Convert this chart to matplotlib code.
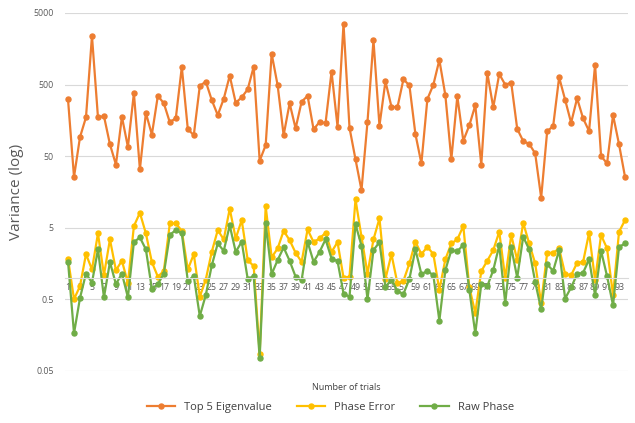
import matplotlib
matplotlib.use("Agg")
import matplotlib.pyplot as plt
from matplotlib.ticker import FixedLocator, NullLocator

plt.rcParams['font.family'] = ['Open Sans', 'DejaVu Sans']

# trial numbers 1..94
trials = list(range(1, 95))

top5_eigen = [
    310, 25.6, 92, 174, 2380, 174, 181, 73, 38, 177,
    67, 380, 32.6, 200, 100, 348, 273, 148, 170, 879,
    119, 98, 476, 551, 303, 187, 316, 664, 278, 331,
    428, 887, 43, 71, 1349, 487, 98, 273, 122, 287,
    348, 118, 150, 145, 755, 129, 3510, 124, 45, 16.7,
    150, 2075, 133, 554, 245, 240, 591, 487, 102, 39.5,
    313, 497, 1101, 356, 45, 342, 82, 134, 256, 37.8,
    731, 240, 701, 497, 530, 120, 81, 74, 54.5, 13.1,
    111, 131, 630, 306, 146, 321, 168, 112, 946, 50,
    39.5, 187, 73, 25.6,
]

phase_error = [
    1.83, 0.50, 0.76, 2.13, 1.30, 4.15, 1.09, 3.42, 1.27, 1.72,
    0.84, 5.25, 8.05, 4.15, 1.65, 1.03, 1.24, 5.72, 5.72, 4.51,
    1.30, 2.13, 0.54, 0.94, 2.29, 4.61, 3.42, 9.16, 3.53, 6.36,
    1.76, 1.45, 0.087, 10.0, 1.92, 2.56, 4.51, 3.34, 2.22, 1.66,
    4.72, 3.13, 3.53, 4.23, 2.29, 3.13, 1.0, 1.03, 12.4, 3.72,
    1.14, 3.42, 6.72, 0.96, 2.13, 0.83, 0.90, 1.58, 3.17, 2.13,
    2.69, 2.13, 0.67, 1.80, 3.00, 3.42, 5.25, 0.74, 0.32, 1.23,
    1.72, 2.42, 4.37, 0.98, 3.93, 1.76, 5.83, 3.00, 1.58, 0.44,
    2.22, 2.22, 2.56, 1.12, 1.08, 1.61, 1.66, 4.23, 0.92, 3.93,
    2.56, 0.57, 4.37, 6.36,
]

raw_phase = [
    1.68, 0.166, 0.52, 1.14, 0.85, 2.48, 0.53, 1.65, 0.81, 1.14,
    0.53, 3.13, 3.65, 2.48, 0.70, 0.81, 1.14, 3.97, 4.61, 4.15,
    0.90, 1.05, 0.29, 0.57, 1.48, 3.00, 2.37, 5.37, 2.29, 3.17,
    0.96, 1.05, 0.076, 5.72, 1.12, 1.76, 2.64, 1.72, 1.03, 0.92,
    3.17, 1.66, 2.29, 3.42, 1.85, 1.70, 0.60, 0.54, 5.60, 2.78,
    0.50, 2.42, 3.13, 0.74, 0.94, 0.65, 0.59, 0.96, 2.48, 1.12,
    1.24, 1.08, 0.25, 1.27, 2.42, 2.33, 2.87, 0.68, 0.166, 0.81,
    0.76, 1.27, 2.82, 0.44, 2.64, 1.0, 3.72, 2.48, 0.87, 0.36,
    1.54, 1.24, 2.42, 0.51, 0.73, 1.12, 1.17, 1.80, 0.57, 2.37,
    1.05, 0.41, 2.69, 3.00,
]

y_ticks = [0.05, 0.5, 5, 50, 500, 5000]
y_tick_labels = ["0.05", "0.5", "5", "50", "500", "5000"]

fig = plt.figure(figsize=(6.35, 4.23), dpi=100)
ax = fig.add_axes([0.1024, 0.1236, 0.8866, 0.8457])

line_kw = dict(marker="o", markersize=3.6, linewidth=1.6)
ax.plot(trials, top5_eigen, color="#ED7D31", label="Top 5 Eigenvalue", **line_kw)
ax.plot(trials, phase_error, color="#FFC000", label="Phase Error", **line_kw)
ax.plot(trials, raw_phase, color="#70AD47", label="Raw Phase", **line_kw)

ax.set_yscale("log")
ax.set_ylim(0.05, 5000)
ax.set_xlim(0.5, 94.5)
ax.yaxis.set_major_locator(FixedLocator(y_ticks))
ax.yaxis.set_minor_locator(NullLocator())
ax.set_yticklabels(y_tick_labels)
ax.xaxis.set_minor_locator(NullLocator())
ax.set_xticks(trials[::2])
ax.set_xticklabels([str(t) for t in trials[::2]])

ax.grid(axis="y", color="#d9d9d9", linewidth=0.8)
ax.set_axisbelow(True)

for side in ["top", "right", "left"]:
    ax.spines[side].set_visible(False)
# category axis crosses the value axis at 1, like in Excel
ax.spines["bottom"].set_position(("data", 1))
ax.spines["bottom"].set_color("#d9d9d9")
ax.spines["bottom"].set_linewidth(0.8)

ax.tick_params(axis="x", length=0, labelsize=6.3, colors="#595959", pad=4)
ax.tick_params(axis="y", length=0, labelsize=6.3, colors="#595959", pad=8)

ax.set_ylabel("Variance (log)", fontsize=11, color="#595959")
ax.yaxis.set_label_coords(-0.072, 0.5)
ax.set_xlabel("Number of trials", fontsize=6.5, color="#404040")
ax.xaxis.set_label_coords(0.5, -0.035)

fig.legend(loc="lower center", bbox_to_anchor=(0.52, 0.0), ncol=3, frameon=False,
           fontsize=8, handlelength=2.6, columnspacing=2.2, labelcolor="#404040")

fig.savefig("out.png", dpi=100)
